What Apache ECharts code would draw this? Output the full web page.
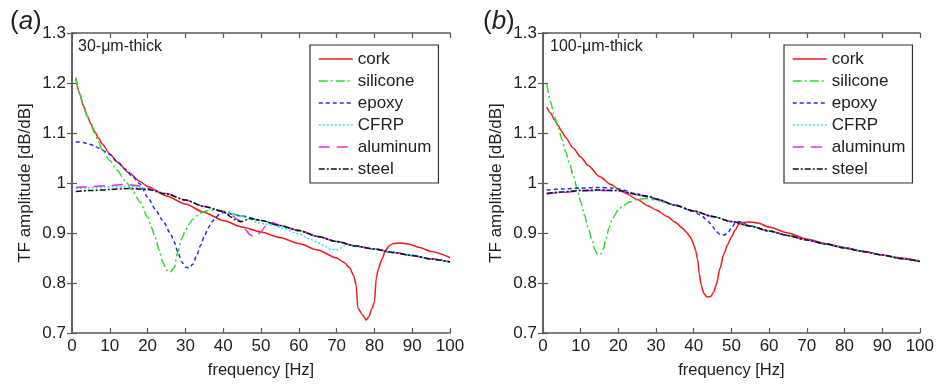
<!DOCTYPE html>
<html><head><meta charset="utf-8">
<script src="https://cdn.jsdelivr.net/npm/echarts/dist/echarts.min.js"></script>
<style>html,body{margin:0;padding:0;background:#fff}#c{width:937px;height:385px}</style>
</head><body><div id="c"></div><script>
// ---- Data: [frequency Hz, TF amplitude dB/dB] ----
const seriesNames = ['cork','silicone','epoxy','CFRP','aluminum','steel'];
const panelLabels = ['a','b'];
const panelNotes = ['30-μm-thick','100-μm-thick'];

// Panel (a) 30 um
const corkA = [[1,1.21],[2,1.18],[3,1.155],[4,1.135],[5,1.118],[6,1.103],[7,1.09],[8,1.078],[10,1.058],[12,1.042],[15,1.021],[18,1.003],[20,0.993],[25,0.974],[30,0.958],[35,0.941],[40,0.925],[45,0.912],[50,0.902],[55,0.891],[60,0.879],[65,0.866],[70,0.85],[72,0.841],[73.5,0.83],[74.5,0.815],[75.2,0.795],[75.6,0.75],[77,0.735],[77.8,0.726],[78.5,0.732],[79.3,0.748],[80,0.762],[80.5,0.81],[81,0.827],[82,0.848],[83,0.866],[84,0.875],[85,0.879],[87,0.88],[89,0.878],[92,0.871],[95,0.863],[100,0.851]];
const siliconeA = [[1,1.21],[2,1.18],[3,1.155],[4,1.134],[5,1.116],[6,1.1],[7,1.083],[8,1.066],[10,1.045],[12,1.025],[14,1.005],[16,0.985],[18,0.962],[20,0.932],[21,0.912],[22,0.891],[23,0.867],[24,0.842],[25,0.826],[26,0.822],[27,0.83],[28,0.862],[29,0.888],[30,0.905],[31,0.918],[32,0.928],[34,0.94],[36,0.945],[38,0.946],[40,0.944],[45,0.934],[50,0.925],[55,0.915],[60,0.905],[65,0.893],[70,0.883],[75,0.874],[80,0.868],[85,0.861],[90,0.855],[95,0.848],[100,0.842]];
const epoxyA = [[1,1.082],[2,1.082],[3,1.081],[4,1.079],[5,1.077],[6,1.074],[7,1.07],[8,1.066],[9,1.062],[10,1.057],[12,1.042],[14,1.028],[16,1.013],[18,0.998],[20,0.972],[22,0.948],[24,0.925],[26,0.9],[27,0.883],[28,0.862],[29,0.843],[30,0.832],[31,0.83],[32,0.838],[33,0.855],[34,0.875],[35,0.893],[36,0.91],[37,0.922],[38,0.931],[39,0.937],[40,0.941],[45,0.934],[50,0.925],[55,0.915],[60,0.905],[65,0.893],[70,0.883],[75,0.874],[80,0.868],[85,0.861],[90,0.855],[95,0.848],[100,0.842]];
const cfrpA = [[1,0.989],[5,0.99],[10,0.992],[15,0.993],[20,0.989],[25,0.979],[30,0.966],[35,0.953],[40,0.943],[45,0.933],[47,0.927],[49,0.921],[51,0.918],[53,0.916],[56,0.909],[60,0.898],[63,0.888],[65,0.881],[67,0.873],[68.5,0.867],[70,0.866],[71,0.869],[72,0.875],[73,0.879],[75,0.874],[80,0.868],[85,0.861],[90,0.855],[95,0.848],[100,0.842]];
const aluminumA = [[1,0.991],[5,0.993],[10,0.995],[14,0.997],[17,0.995],[20,0.99],[25,0.979],[30,0.966],[35,0.953],[40,0.943],[42,0.937],[44,0.926],[45,0.917],[46,0.906],[47,0.897],[48,0.893],[49,0.895],[50,0.902],[51,0.912],[52,0.92],[53,0.921],[55,0.915],[60,0.905],[65,0.893],[70,0.883],[75,0.874],[80,0.868],[85,0.861],[90,0.855],[95,0.848],[100,0.842]];
const steelA = [[1,0.983],[5,0.985],[10,0.987],[15,0.989],[20,0.987],[25,0.978],[30,0.966],[35,0.953],[40,0.943],[41,0.938],[42,0.932],[43,0.927],[44,0.924],[45,0.923],[46,0.926],[47,0.929],[48,0.928],[50,0.925],[55,0.915],[60,0.905],[65,0.893],[70,0.883],[75,0.874],[80,0.868],[85,0.861],[90,0.855],[95,0.848],[100,0.842]];

// Panel (b) 100 um
const corkB = [[1,1.152],[2,1.14],[3,1.127],[4,1.115],[5,1.103],[6,1.091],[8,1.07],[10,1.052],[12,1.035],[15,1.013],[18,0.997],[20,0.988],[22,0.979],[25,0.967],[28,0.954],[30,0.946],[33,0.933],[35,0.922],[37,0.91],[38,0.902],[39,0.893],[39.5,0.886],[40,0.877],[40.5,0.865],[41,0.848],[41.5,0.818],[42,0.795],[42.7,0.779],[43.5,0.772],[44.5,0.773],[45.3,0.782],[46,0.797],[47,0.83],[48,0.858],[49,0.877],[50,0.892],[51,0.906],[52,0.918],[53,0.921],[55,0.922],[57,0.92],[60,0.912],[65,0.9],[70,0.888],[75,0.879],[80,0.871],[85,0.863],[90,0.856],[95,0.85],[100,0.844]];
const siliconeB = [[1,1.198],[2,1.163],[3,1.133],[4,1.112],[5,1.088],[6,1.063],[7,1.04],[8,1.016],[9,0.99],[10,0.963],[11,0.936],[12,0.91],[13,0.887],[13.8,0.866],[14.5,0.857],[15.3,0.858],[16,0.868],[16.7,0.888],[17.5,0.91],[18.5,0.93],[20,0.946],[21,0.953],[23,0.962],[25,0.967],[27,0.969],[30,0.966],[35,0.955],[40,0.944],[45,0.933],[50,0.923],[55,0.914],[60,0.904],[65,0.895],[70,0.886],[75,0.878],[80,0.87],[85,0.863],[90,0.856],[95,0.849],[100,0.843]];
const epoxyB = [[1,0.986],[5,0.988],[10,0.99],[15,0.991],[18,0.99],[20,0.988],[25,0.978],[28,0.973],[30,0.968],[35,0.956],[40,0.943],[42,0.935],[44,0.922],[45,0.913],[46,0.903],[47,0.897],[48,0.896],[49,0.899],[50,0.91],[51,0.92],[52,0.923],[55,0.914],[60,0.904],[65,0.895],[70,0.886],[75,0.878],[80,0.87],[85,0.863],[90,0.856],[95,0.849],[100,0.843]];
const cfrpB = [[1,0.979],[5,0.982],[10,0.985],[15,0.986],[20,0.985],[25,0.977],[28,0.973],[30,0.968],[35,0.956],[40,0.944],[45,0.933],[50,0.923],[55,0.914],[60,0.904],[65,0.895],[70,0.886],[75,0.878],[80,0.87],[85,0.863],[90,0.856],[95,0.849],[100,0.843]];
const aluminumB = [[1,0.978],[5,0.981],[10,0.984],[15,0.985],[20,0.984],[25,0.976],[28,0.972],[30,0.968],[35,0.956],[40,0.944],[45,0.933],[50,0.923],[55,0.914],[60,0.904],[65,0.895],[70,0.886],[75,0.878],[80,0.87],[85,0.863],[90,0.856],[95,0.849],[100,0.843]];
const steelB = [[1,0.979],[5,0.982],[10,0.985],[15,0.986],[20,0.985],[25,0.977],[28,0.973],[30,0.968],[35,0.956],[40,0.944],[45,0.933],[50,0.923],[55,0.914],[60,0.904],[65,0.895],[70,0.886],[75,0.878],[80,0.87],[85,0.863],[90,0.856],[95,0.849],[100,0.843]];

const panelData = [
  [corkA, siliconeA, epoxyA, cfrpA, aluminumA, steelA],
  [corkB, siliconeB, epoxyB, cfrpB, aluminumB, steelB]
];

// ---- Styles ----
const colors = ['#ee1c1c','#2edc2e','#2230e0','#30e0e0','#e030e0','#111111'];
const dashes = ['solid',[9,3,2,3],[4,3],[2,2],[11,7],[6,2,2,2]];
const FONT = 'Liberation Sans, Arial, sans-serif';
const frameColor = '#5a5a5a';

const grids = [
  {left:72, top:33, width:378, height:300},
  {left:543, top:33, width:380, height:300}
];

const xAxis = [], yAxis = [];
grids.forEach((g, gi) => {
  const axisLine = {show:true, lineStyle:{color:frameColor, width:1.5}};
  const axisTick = {show:true, inside:true, length:5, lineStyle:{color:frameColor, width:1.2}};
  xAxis.push({gridIndex:gi, type:'value', min:0, max:100, interval:10, position:'bottom',
    axisLine, axisTick, splitLine:{show:false},
    axisLabel:{show:true, margin:5, color:'#222', fontSize:17, fontFamily:FONT},
    name:'frequency [Hz]', nameLocation:'middle', nameGap:29,
    nameTextStyle:{color:'#222', fontSize:16.5, fontFamily:FONT}});
  xAxis.push({gridIndex:gi, type:'value', min:0, max:100, interval:10, position:'top',
    axisLine, axisTick, splitLine:{show:false}, axisLabel:{show:false}});
  yAxis.push({gridIndex:gi, type:'value', min:0.7, max:1.3, interval:0.1, position:'left',
    axisLine, axisTick, splitLine:{show:false},
    axisLabel:{show:true, margin:6, color:'#222', fontSize:17, fontFamily:FONT,
      formatter: v => String(parseFloat(v.toFixed(1)))},
    name:'TF amplitude [dB/dB]', nameLocation:'middle', nameGap:38, nameRotate:90,
    nameTextStyle:{color:'#222', fontSize:17, fontFamily:FONT}});
  yAxis.push({gridIndex:gi, type:'value', min:0.7, max:1.3, interval:0.1, position:'right',
    axisLine, axisTick, splitLine:{show:false}, axisLabel:{show:false}});
});

const series = [];
panelData.forEach((arrs, pi) => {
  arrs.forEach((d, si) => {
    series.push({
      name: seriesNames[si], type:'line', data:d,
      xAxisIndex: pi*2, yAxisIndex: pi*2,
      symbol:'none', smooth:0.25, smoothMonotone:'x',
      lineStyle:{color:colors[si], width:1.5, type:dashes[si]},
      itemStyle:{color:colors[si]},
      emphasis:{disabled:true}, silent:true, animation:false, z: 2 + si
    });
  });
});

const legends = [310, 784].map(x => ({
  left:x, top:45, orient:'vertical', data:seriesNames,
  itemWidth:34, itemHeight:12, itemGap:4,
  padding:[5,7,5,8], borderColor:'#333', borderWidth:1.2, backgroundColor:'#fff',
  textStyle:{color:'#222', fontSize:17, fontFamily:FONT, lineHeight:18},
  itemStyle:{opacity:0},
  lineStyle:{width:1.5},
  selectedMode:false
}));

const graphic = [];
[[10,24],[483,24]].forEach((p, i) => {
  graphic.push({type:'text', left:p[0], top:p[1]-15, style:{
    text:'(' + '{i|' + panelLabels[i] + '})', rich:{i:{fontStyle:'italic', fontSize:26, fontFamily:FONT, fill:'#222'}},
    fontSize:26, fontFamily:FONT, fill:'#222'}});
});
[[78,47],[550,47]].forEach((p, i) => {
  graphic.push({type:'text', x:p[0], y:p[1], style:{text:panelNotes[i], fontSize:16, fontFamily:FONT,
    fill:'#222', verticalAlign:'middle', align:'left'}});
});

const chart = echarts.init(document.getElementById('c'), null, {renderer:'canvas'});
chart.setOption({
  animation:false, backgroundColor:'#fff',
  grid: grids, xAxis, yAxis, series, legend: legends, graphic
});
</script></body></html>
